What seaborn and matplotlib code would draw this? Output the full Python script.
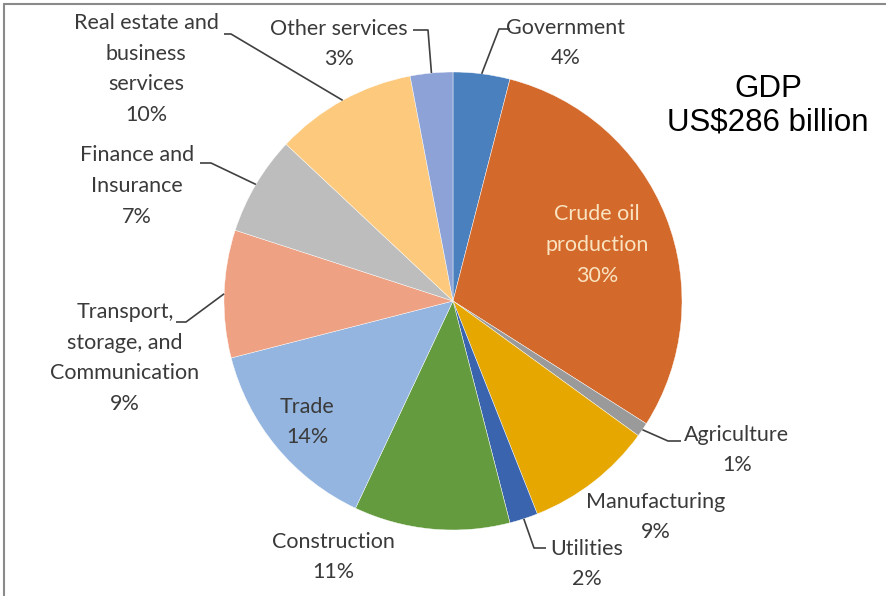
import numpy as np
import matplotlib.pyplot as plt
import seaborn as sns

# GDP composition by sector, clockwise from the top
sectors = ["Government", "Crude oil production", "Agriculture", "Manufacturing",
           "Utilities", "Construction", "Trade",
           "Transport, storage, and Communication", "Finance and Insurance",
           "Real estate and business services", "Other services"]
shares = [4, 30, 1, 9, 2, 11, 14, 9, 7, 10, 3]
label_lines = ["Government", "Crude oil\nproduction", "Agriculture", "Manufacturing",
               "Utilities", "Construction", "Trade",
               "Transport,\nstorage, and\nCommunication", "Finance and\nInsurance",
               "Real estate and\nbusiness\nservices", "Other services"]
colors = ["#4a80bd", "#d3692a", "#9a9a9a", "#e5a700", "#3a64ae", "#649b3e",
          "#93b5df", "#eea183", "#bdbdbd", "#fdca7d", "#8da2d6"]
title_text = "GDP\nUS$286 billion"

sns.set_theme(style="white")
plt.rcParams['font.family'] = ['Lato', 'DejaVu Sans']

W, H = 887, 596
fig = plt.figure(figsize=(W / 100, H / 100), dpi=100)
ax = fig.add_axes([0, 0, 1, 1])

cx, cy, r = 453, H - 301, 229
wedges, _ = ax.pie(shares, colors=sns.color_palette(colors), startangle=90,
                   counterclock=False, center=(cx, cy), radius=r,
                   wedgeprops=dict(edgecolor="white", linewidth=0.3))
ax.set_xlim(0, W)
ax.set_ylim(0, H)
ax.set_aspect("equal")
ax.axis("off")

# label placement in pixels from top-left: text centre, leader elbow, leader end
layout = {
    "Government": ((566, 43), (499, 29), (510, 29)),
    "Crude oil production": ((597, 245), None, None),
    "Agriculture": ((737, 450), (668, 441), (681, 441)),
    "Manufacturing": ((656, 517), None, None),
    "Utilities": ((587, 564), (534, 548), (546, 548)),
    "Construction": ((333, 557), None, None),
    "Trade": ((307, 422), None, None),
    "Transport, storage, and Communication": ((125, 358), (186, 322), (176, 322)),
    "Finance and Insurance": ((137, 186), (211, 163), (200, 163)),
    "Real estate and business services": ((146, 69), (231, 34), (224, 34)),
    "Other services": ((339, 44), (428, 30), (413, 30)),
}

for wedge, name, text, share in zip(wedges, sectors, label_lines, shares):
    (tx, ty), elbow, end = layout[name]
    col = "#f9e3c0" if name == "Crude oil production" else "#3a3a3a"
    ax.text(tx, H - ty, f"{text}\n{share}%", ha="center", va="center",
            fontsize=15.5, color=col, linespacing=1.68)
    if elbow is not None:
        mid = np.deg2rad((wedge.theta1 + wedge.theta2) / 2)
        sx, sy = cx + r * np.cos(mid), cy + r * np.sin(mid)
        ax.plot([sx, elbow[0], end[0]], [sy, H - elbow[1], H - end[1]],
                color="#404040", lw=1.2, solid_capstyle="butt")

ax.text(768, H - 106, title_text, ha="center", va="center", fontsize=22.5,
        family=["Liberation Sans", "DejaVu Sans"], color="black", linespacing=1.15)

# thin frame along the top and left edges
ax.plot([4, W], [H - 4, H - 4], color="#8a8a8a", lw=1.5)
ax.plot([4, 4], [H - 4, 0], color="#8a8a8a", lw=1.5)

fig.savefig("out.png", dpi=100)
